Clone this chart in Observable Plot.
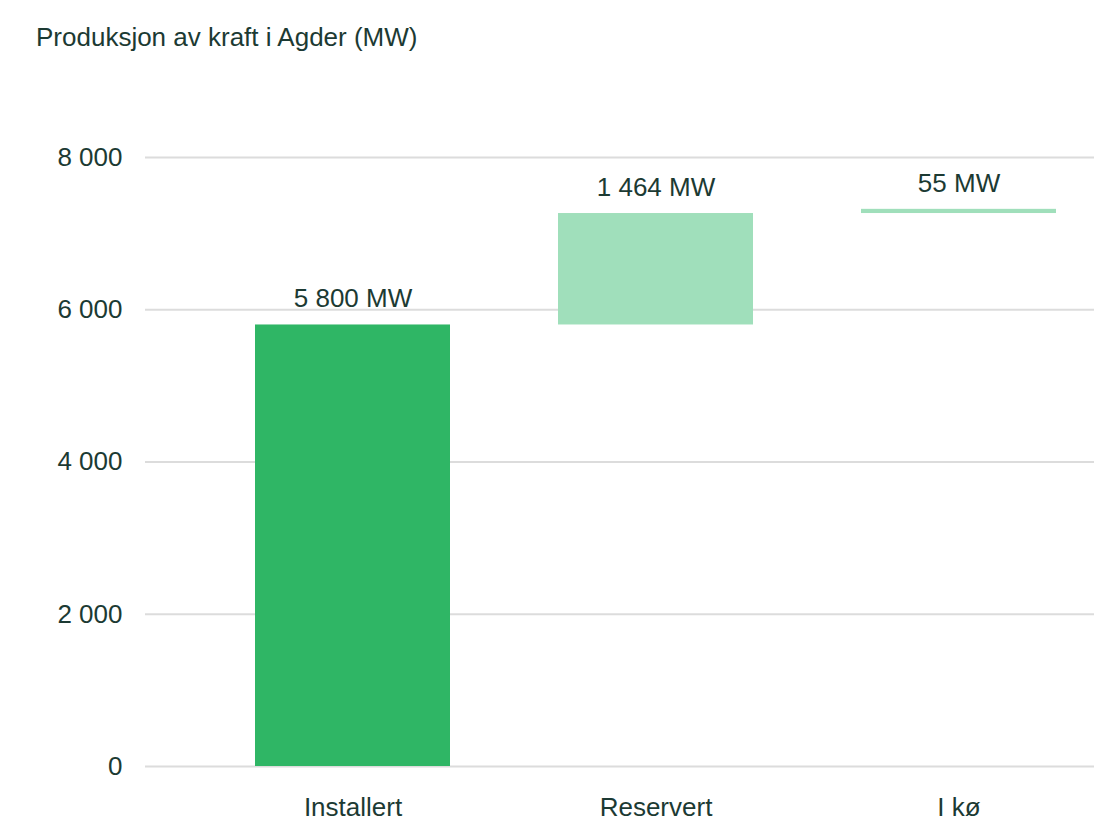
<!DOCTYPE html>
<html>
<head>
<meta charset="utf-8">
<script src="https://cdn.jsdelivr.net/npm/d3@7"></script>
<script src="https://cdn.jsdelivr.net/npm/@observablehq/plot@0.6"></script>
<style>
  html, body { margin: 0; padding: 0; background: #fff; }
  body { width: 1094px; height: 824px; position: relative; overflow: hidden; font-family: "Liberation Sans", Arial, sans-serif; }
  #title { position: absolute; left: 36px; top: 22px; font-size: 26px; line-height: 30px; color: #1c3a33; white-space: nowrap; }
  #chart { position: absolute; left: 0; top: 70px; }
</style>
</head>
<body>
<div id="title">Produksjon av kraft i Agder (MW)</div>
<div id="chart"></div>
<script>
const categories = ["Installert", "Reservert", "I kø"];
const values = [5800, 1464, 55];
const barColors = ["#2fb665", "#a0dfbb", "#a0dfbb"];
const yTicks = [0, 2000, 4000, 6000, 8000];

const locale = d3.formatLocale({decimal: ",", thousands: " ", grouping: [3], currency: ["", ""]});
const fmt = locale.format(",d");

let running = 0;
const data = categories.map((c, i) => {
  const start = running;
  running += values[i];
  return {category: c, value: values[i], start, end: running, color: barColors[i], label: fmt(values[i]) + " MW"};
});

const plot = Plot.plot({
  width: 1094,
  height: 754,
  marginTop: 87,
  marginBottom: 58,
  marginLeft: 145,
  marginRight: 0,
  style: {fontFamily: "Liberation Sans, Arial, sans-serif", fontSize: "26px", color: "#1c3a33", background: "transparent"},
  x: {domain: categories, paddingInner: 0.355, paddingOuter: 0.2385, align: 0.745, label: null},
  y: {domain: [0, 8000], label: null},
  marks: [
    Plot.ruleY(yTicks, {stroke: "#dcdcdc", strokeWidth: 2}),
    Plot.barY(data, {x: "category", y1: "start", y2: "end", fill: "color"}),
    Plot.text(data, {x: "category", y: "end", text: "label", dy: -26, fontSize: 26, fill: "#1c3a33"}),
    Plot.axisY({ticks: yTicks, tickFormat: fmt, tickSize: 0, tickPadding: 23, fontSize: 26, fill: "#1c3a33", label: null}),
    Plot.axisX({tickSize: 0, tickPadding: 31, fontSize: 26, fill: "#1c3a33", label: null})
  ]
});
document.getElementById("chart").appendChild(plot);
</script>
</body>
</html>
